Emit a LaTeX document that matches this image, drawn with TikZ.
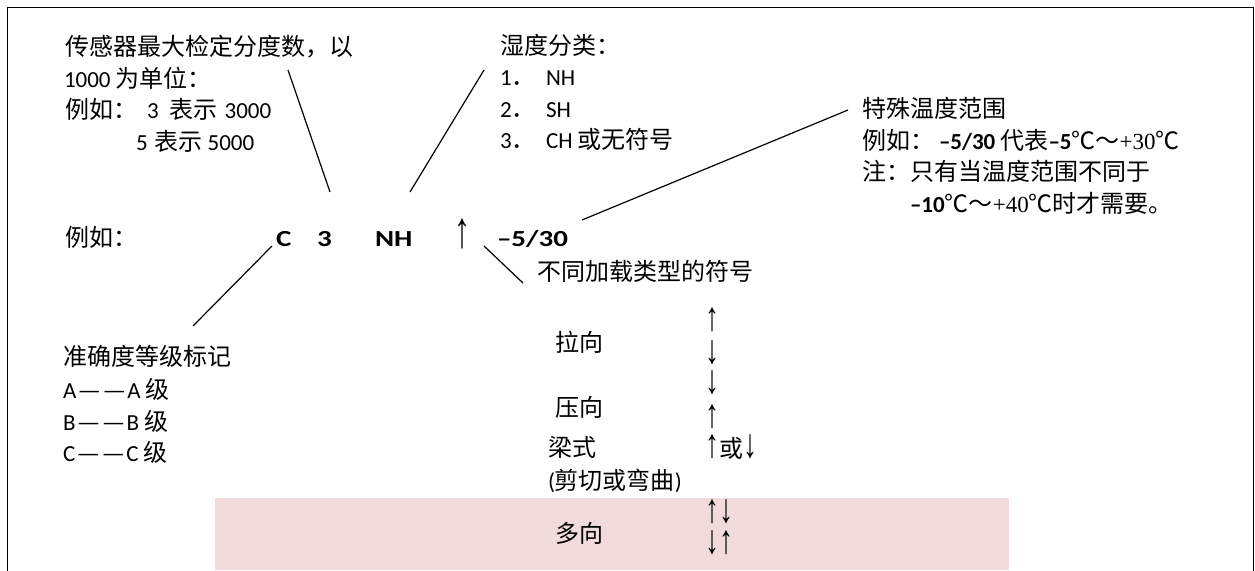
\documentclass[tikz,border=0pt]{standalone}
\usepackage{fontspec}
\usepackage{graphicx}
\setmainfont{Carlito}[Numbers=Monospaced]
\newfontfamily\zhf{Noto Sans CJK SC}
\newfontfamily\serf{Liberation Serif}
\newcommand\zh[1]{{\fontsize{24}{31}\zhf #1}}
\newcommand\sr[1]{{\serf #1}}
\newcommand\ar[1]{\scalebox{1}[1.45]{\fontsize{28}{31}\serf #1}}
\newcommand\bigar[1]{\scalebox{1}[1.6]{\fontsize{32}{31}\serf #1}}
\newcommand\wide[1]{\scalebox{1.26}[1]{\textbf{#1}}}
\newcommand\dd{\kern1pt\scalebox{1.15}[1]{—\kern1pt—}\kern1pt}
\definecolor{pinkbg}{HTML}{F2DCDB}
\tikzset{
  txt/.style={anchor=base west, inner sep=0pt, outer sep=0pt, font=\fontsize{23}{31}\selectfont},
  conn/.style={line width=1.2pt, draw=black},
  frame/.style={line width=1.8pt, draw=black}
}
\begin{document}
\begin{tikzpicture}[x=1pt,y=-1pt]
\useasboundingbox (0,0) rectangle (1255,570);
\fill[white] (0,0) rectangle (1255,570);
\fill[pinkbg] (215,498) rectangle (1009,570);
\draw[frame] (7.5,571) -- (7.5,7.5) -- (1253.5,7.5) -- (1253.5,571);

% top-left block
\node[txt] (a1) at (65,55) {\zh{传感器最大检定分度数，以}};
\node[txt] (a2) at (64,87) {1000 \zh{为单位：}};
\node[txt] (a3) at (65,118) {\zh{例如：}\hspace{10pt}3\hspace{11pt}\zh{表示}\hspace{7pt}3000};
\node[txt] (a4) at (136,150) {5\hspace{7pt}\zh{表示}\hspace{5pt}5000};

% humidity block
\node[txt] (b1) at (500,54) {\zh{湿度分类：}};
\node[txt] (b2) at (500,85) {1\zh{．}};
\node[txt] (b2t) at (546,85) {NH};
\node[txt] (b3) at (500,117) {2\zh{．}};
\node[txt] (b3t) at (546,117) {SH};
\node[txt] (b4) at (500,148) {3\zh{．}};
\node[txt] (b4t) at (546,148) {CH \zh{或无符号}};

% temperature block
\node[txt] (c1) at (862,117) {\zh{特殊温度范围}};
\node[txt] (c2) at (862,149) {\zh{例如：}\hspace{5pt}\textbf{–5/30} \zh{代表}\textbf{–5}\zh{℃～}\sr{+30}\zh{℃}};
\node[txt] (c3) at (862,180) {\zh{注：只有当温度范围不同于}};
\node[txt] (c4) at (910,212) {\textbf{–10}\zh{℃～}\sr{+40}\zh{℃时才需要。}};

% example row
\node[txt] (d0) at (65,246) {\zh{例如：}};
\node[txt] (dC) at (276,246) {\wide{C}};
\node[txt] (d3) at (317,246) {\wide{3}};
\node[txt] (dNH) at (375,246) {\wide{NH}};
\node[txt] (dar) at (454,247) {\bigar{↑}};
\node[txt] (dT) at (497,246) {\wide{–5/30}};
\node[txt] (dL) at (537,280) {\zh{不同加载类型的符号}};

% accuracy block
\node[txt] (e1) at (63,365) {\zh{准确度等级标记}};
\node[txt] (e2) at (63,398) {A\dd A \zh{级}};
\node[txt] (e3) at (63,430) {B\dd B \zh{级}};
\node[txt] (e4) at (63,461) {C\dd C \zh{级}};

% loading types table
\node[txt] (f1) at (555,351) {\zh{拉向}};
\node[txt] (f2) at (555,416) {\zh{压向}};
\node[txt] (f3) at (548,456) {\zh{梁式}};
\node[txt] (f4) at (548,489) {(\zh{剪切或弯曲})};
\node[txt] (f5) at (555,542) {\zh{多向}};
\node[txt] (g1) at (705,330) {\ar{↑}};
\node[txt] (g2) at (705,363) {\ar{↓}};
\node[txt] (g3) at (705,393) {\ar{↓}};
\node[txt] (g4) at (705,427) {\ar{↑}};
\node[txt] (g5) at (705,457) {\ar{↑}\zh{或}\ar{↓}};
\node[txt] (g6) at (705,522) {\ar{↑↓}};
\node[txt] (g7) at (705,553) {\ar{↓↑}};

% connector end points
\coordinate (k1s) at (288,70);  \coordinate (k1e) at (330,192);
\coordinate (k2s) at (484,70);  \coordinate (k2e) at (410,192);
\coordinate (k3s) at (582,220); \coordinate (k3e) at (848,110);
\coordinate (k4s) at (484,246); \coordinate (k4e) at (523,283);
\coordinate (k5s) at (272,246); \coordinate (k5e) at (193,326);
\draw[conn] (k1s) -- (k1e);
\draw[conn] (k2s) -- (k2e);
\draw[conn] (k3s) -- (k3e);
\draw[conn] (k4s) -- (k4e);
\draw[conn] (k5s) -- (k5e);
\end{tikzpicture}
\end{document}
